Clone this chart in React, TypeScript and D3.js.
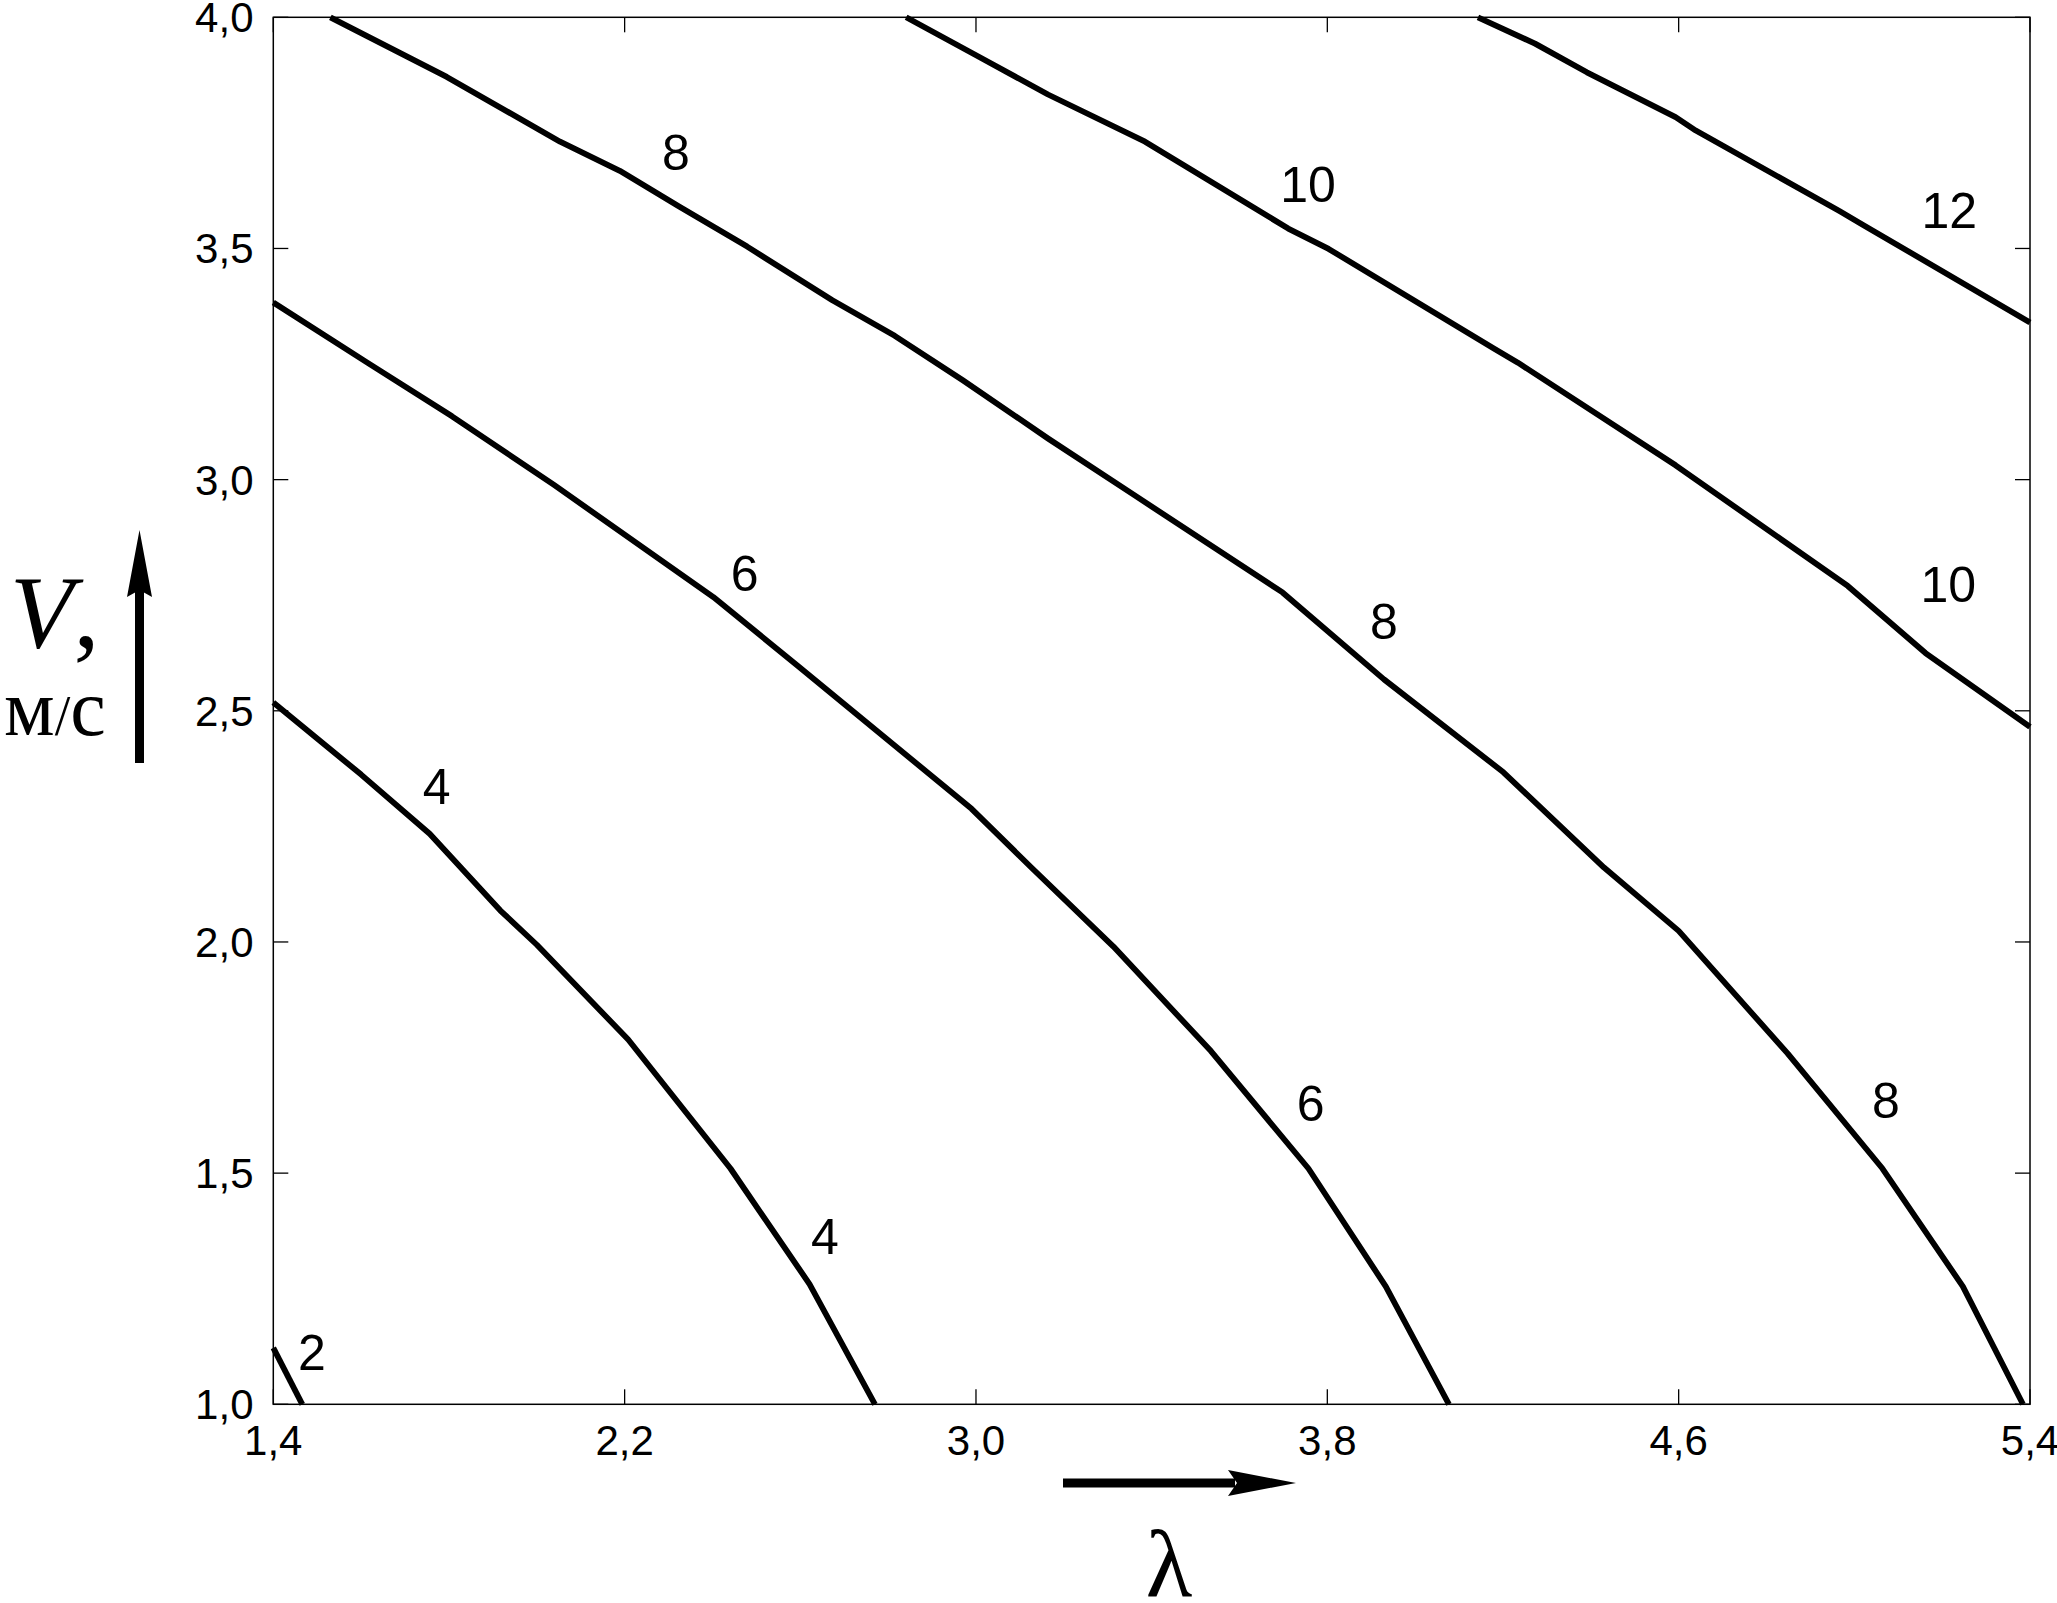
import React from "react";
import * as d3 from "d3";

// ---- data ----
const xTicks = [1.4, 2.2, 3.0, 3.8, 4.6, 5.4];
const yTicks = [1.0, 1.5, 2.0, 2.5, 3.0, 3.5, 4.0];

const contour2: [number, number][] = [[1.4, 1.122], [1.466, 1.0]];
const contour4: [number, number][] = [
  [1.4, 2.518], [1.6, 2.362], [1.756, 2.234], [1.917, 2.068], [2.0, 1.994],
  [2.208, 1.789], [2.441, 1.51], [2.621, 1.26], [2.77, 1.0],
];
const contour6: [number, number][] = [
  [1.4, 3.383], [1.614, 3.253], [1.807, 3.137], [2.04, 2.988], [2.402, 2.746],
  [2.596, 2.596], [2.99, 2.288], [3.126, 2.161], [3.313, 1.99], [3.535, 1.764],
  [3.757, 1.51], [3.933, 1.255], [4.077, 1.0],
];
const contour8: [number, number][] = [
  [1.53, 4.0], [1.795, 3.871], [2.053, 3.731], [2.189, 3.668], [2.324, 3.591],
  [2.479, 3.504], [2.673, 3.388], [2.815, 3.311], [2.97, 3.215], [3.164, 3.089],
  [3.358, 2.968], [3.698, 2.756], [3.929, 2.568], [4.201, 2.367], [4.43, 2.161],
  [4.6, 2.024], [4.848, 1.759], [5.064, 1.51], [5.247, 1.255], [5.384, 1.0],
];
const contour10: [number, number][] = [
  [2.841, 4.0], [2.996, 3.92], [3.164, 3.833], [3.385, 3.731], [3.711, 3.543],
  [3.803, 3.499], [4.182, 3.282], [4.234, 3.253], [4.593, 3.031], [4.985, 2.77],
  [5.162, 2.625], [5.4, 2.465],
];
const contour12: [number, number][] = [
  [4.143, 4.0], [4.273, 3.943], [4.391, 3.881], [4.593, 3.784], [4.639, 3.755],
  [4.966, 3.581], [5.018, 3.552], [5.4, 3.34],
];
const contours = [contour2, contour4, contour6, contour8, contour10, contour12];

const labelText = ["8", "10", "12", "6", "8", "10", "4", "6", "8", "4", "2"];
const labelX = [2.317, 3.756, 5.216, 2.473, 3.929, 5.214, 1.772, 3.762, 5.072, 2.656, 1.488];
const labelY = [3.709, 3.64, 3.584, 2.799, 2.695, 2.775, 2.337, 1.652, 1.658, 1.363, 1.114];

const W = 2057;
const H = 1603;
const M = { left: 273.3, right: 2030, top: 17.3, bottom: 1404.3 };

export default function App() {
  const x = d3.scaleLinear().domain([1.4, 5.4]).range([M.left, M.right]);
  const y = d3.scaleLinear().domain([1.0, 4.0]).range([M.bottom, M.top]);
  const line = d3
    .line<[number, number]>()
    .x((d) => x(d[0]))
    .y((d) => y(d[1]));
  const fmt = (v: number) => d3.format(".1f")(v).replace(".", ",");
  const sans = "'Liberation Sans', Arial, sans-serif";
  const serif = "'Liberation Serif', 'Times New Roman', serif";
  const tl = 15;

  return (
    <svg
      width={W}
      height={H}
      style={{ position: "absolute", left: 0, top: 0, display: "block", background: "#fff" }}
    >
      <rect x={0} y={0} width={W} height={H} fill="#fff" />
      <defs>
        <clipPath id="clip">
          <rect x={M.left - 3} y={M.top - 3} width={M.right - M.left + 6} height={M.bottom - M.top + 6} />
        </clipPath>
      </defs>
      {/* frame */}
      <rect
        x={M.left}
        y={M.top}
        width={M.right - M.left}
        height={M.bottom - M.top}
        fill="none"
        stroke="#000"
        strokeWidth={1.5}
      />
      {/* ticks */}
      {xTicks.map((t, i) => (
        <g key={"xt" + i}>
          <line x1={x(t)} x2={x(t)} y1={M.bottom} y2={M.bottom - tl} stroke="#000" strokeWidth={1.3} />
          <line x1={x(t)} x2={x(t)} y1={M.top} y2={M.top + tl} stroke="#000" strokeWidth={1.3} />
          <text x={x(t)} y={M.bottom + 51} fontFamily={sans} fontSize={42} textAnchor="middle" fill="#000">
            {fmt(t)}
          </text>
        </g>
      ))}
      {yTicks.map((t, i) => (
        <g key={"yt" + i}>
          <line x1={M.left} x2={M.left + tl} y1={y(t)} y2={y(t)} stroke="#000" strokeWidth={1.3} />
          <line x1={M.right} x2={M.right - tl} y1={y(t)} y2={y(t)} stroke="#000" strokeWidth={1.3} />
          <text x={253.5} y={y(t) + 15} fontFamily={sans} fontSize={42} textAnchor="end" fill="#000">
            {fmt(t)}
          </text>
        </g>
      ))}
      {/* contours */}
      <g clipPath="url(#clip)">
        {contours.map((c, i) => (
          <path key={"c" + i} d={line(c) || ""} fill="none" stroke="#000" strokeWidth={5.8} strokeLinejoin="round" />
        ))}
      </g>
      {/* contour labels */}
      {labelText.map((t, i) => (
        <text
          key={"l" + i}
          x={x(labelX[i])}
          y={y(labelY[i]) + 18}
          fontFamily={sans}
          fontSize={50}
          textAnchor="middle"
          fill="#000"
        >
          {t}
        </text>
      ))}
      {/* y axis title */}
      <text x={10} y={647} fontFamily={serif} fontSize={104} fill="#000">
        <tspan fontStyle="italic">V</tspan>
        <tspan>,</tspan>
      </text>
      <text x={4} y={735} fontFamily={serif} fontSize={80} fill="#000">
        <tspan>м</tspan>
        <tspan fontSize={56}>/</tspan>
        <tspan>с</tspan>
      </text>
      {/* y arrow */}
      <rect x={135} y={590} width={9} height={173} fill="#000" />
      <polygon points="139.5,530 152,597 139.5,590 127,597" fill="#000" />
      {/* x arrow */}
      <rect x={1063} y={1478.5} width={172} height={9} fill="#000" />
      <polygon points="1296,1483 1228,1470 1237,1483 1228,1496" fill="#000" />
      {/* x axis title */}
      <text x={1169} y={1596} fontFamily={serif} fontSize={96} textAnchor="middle" fill="#000">
        λ
      </text>
    </svg>
  );
}
